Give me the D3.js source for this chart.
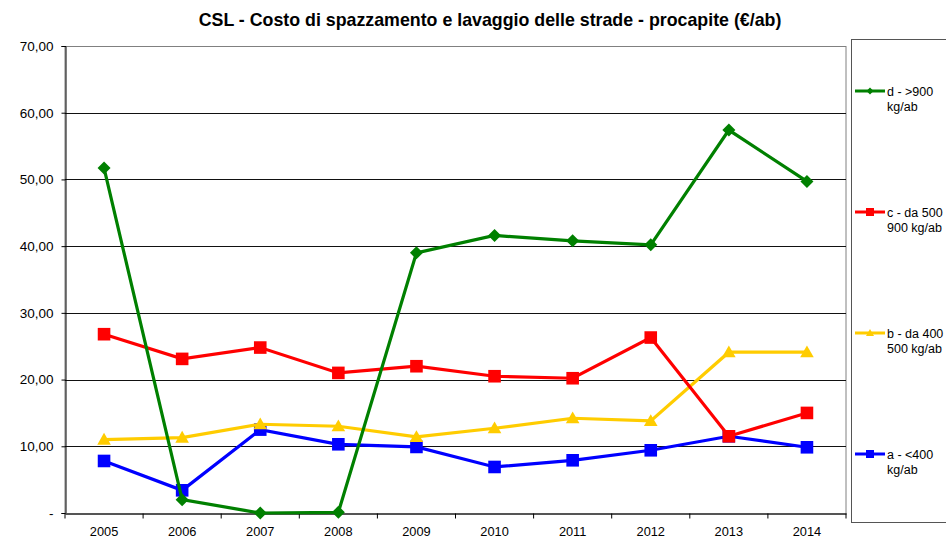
<!DOCTYPE html>
<html>
<head>
<meta charset="utf-8">
<script src="https://cdn.jsdelivr.net/npm/d3@7"></script>
<style>
  body { margin: 0; background: #fff; }
  svg { font-family: "Liberation Sans", Arial, sans-serif; }
</style>
</head>
<body>
<svg id="chart" width="946" height="539"></svg>
<script>
// data
var years = ["2005", "2006", "2007", "2008", "2009", "2010", "2011", "2012", "2013", "2014"];
var seriesD = [51.7, 2.0, 0.0, 0.1, 39.0, 41.6, 40.8, 40.2, 57.4, 49.7];
var seriesC = [26.8, 23.1, 24.8, 21.0, 22.0, 20.5, 20.2, 26.3, 11.5, 15.0];
var seriesB = [11.0, 11.3, 13.3, 13.0, 11.4, 12.7, 14.2, 13.8, 24.1, 24.1];
var seriesA = [7.8, 3.4, 12.5, 10.3, 9.9, 6.9, 7.9, 9.4, 11.5, 9.85];
var yTicks = [0, 10, 20, 30, 40, 50, 60, 70];

var series = [
    {name: ["d - >900", "kg/ab"], values: seriesD, color: "#008000", shape: "diamond"},
    {name: ["c - da 500", "900 kg/ab"], values: seriesC, color: "#ff0000", shape: "square"},
    {name: ["b - da 400", "500 kg/ab"], values: seriesB, color: "#ffcc00", shape: "triangle"},
    {name: ["a - <400", "kg/ab"], values: seriesA, color: "#0000ff", shape: "square"}
];

var svg = d3.select("#chart");
var plotLeft = 65, plotRight = 846, plotTop = 46, plotBottom = 513;

var x = d3.scaleBand().domain(years).range([plotLeft, plotRight]);
var y = d3.scaleLinear().domain([0, 70]).range([plotBottom, plotTop]);

// title
svg.append("text")
    .attr("x", 490).attr("y", 26)
    .attr("text-anchor", "middle")
    .attr("font-size", 17.8).attr("font-weight", "bold")
    .text("CSL - Costo di spazzamento e lavaggio delle strade - procapite (€/ab)");

// plot border
svg.append("rect")
    .attr("x", plotLeft).attr("y", plotTop + 0.5)
    .attr("width", plotRight - plotLeft).attr("height", plotBottom - plotTop)
    .attr("fill", "none").attr("stroke", "#808080").attr("stroke-width", 1);

// gridlines
svg.append("g").selectAll("line")
    .data(yTicks.filter(function(d) { return d > 0 && d < 70; }))
    .join("line")
    .attr("x1", plotLeft).attr("x2", plotRight)
    .attr("y1", function(d) { return Math.round(y(d)) + 0.5; })
    .attr("y2", function(d) { return Math.round(y(d)) + 0.5; })
    .attr("stroke", "#111").attr("stroke-width", 1);

// y axis
var yAxis = svg.append("g")
    .attr("transform", "translate(" + (plotLeft + 0.5) + ",0)")
    .call(d3.axisLeft(y).tickValues(yTicks).tickSize(4).tickPadding(8)
        .tickFormat(function(d) { return d === 0 ? "-" : d3.format(".2f")(d).replace(".", ","); }));
yAxis.selectAll("text").attr("font-size", 13.5).attr("fill", "#000")
    .attr("font-family", "Liberation Sans, Arial, sans-serif");
yAxis.select(".domain").attr("stroke", "#000");
yAxis.selectAll(".tick line").attr("stroke", "#000");

// x axis
var xAxis = svg.append("g")
    .attr("transform", "translate(0," + (plotBottom + 0.5) + ")")
    .call(d3.axisBottom(x).tickSize(0).tickPadding(13));
xAxis.selectAll("text").attr("font-size", 12.8).attr("fill", "#000")
    .attr("font-family", "Liberation Sans, Arial, sans-serif");
xAxis.select(".domain").attr("stroke", "#555").attr("stroke-width", 2);
xAxis.append("g").selectAll("line")
    .data(d3.range(years.length + 1))
    .join("line")
    .attr("x1", function(i) { return plotLeft + i * x.step(); })
    .attr("x2", function(i) { return plotLeft + i * x.step(); })
    .attr("y1", 0).attr("y2", 5)
    .attr("stroke", "#000");

function cx(i) { return x(years[i]) + x.bandwidth() / 2; }

// marker path centred on 0,0 with half-size r
function markerPath(shape, r) {
    if (shape === "square") {
        return "M" + (-r) + "," + (-r) + "H" + r + "V" + r + "H" + (-r) + "Z";
    } else if (shape === "diamond") {
        return "M0," + (-r) + "L" + r + ",0L0," + r + "L" + (-r) + ",0Z";
    }
    return "M0," + (-r) + "L" + r + "," + (r * 0.75) + "L" + (-r) + "," + (r * 0.75) + "Z";
}

var markerSize = {square: 6.3, diamond: 6.5, triangle: 6.8};

var line = d3.line()
    .x(function(d, i) { return cx(i); })
    .y(function(d) { return y(d); });

// draw bottom series first so green sits on top
series.slice().reverse().forEach(function(s) {
    var g = svg.append("g");
    g.append("path").datum(s.values)
        .attr("d", line).attr("fill", "none")
        .attr("stroke", s.color).attr("stroke-width", 3.2);
    g.selectAll(".m").data(s.values).join("path")
        .attr("d", markerPath(s.shape, markerSize[s.shape]))
        .attr("transform", function(v, i) { return "translate(" + cx(i) + "," + y(v) + ")"; })
        .attr("fill", s.color);
});

// legend
svg.append("rect")
    .attr("x", 851.5).attr("y", 39.5)
    .attr("width", 110).attr("height", 483)
    .attr("fill", "#fff").attr("stroke", "#555").attr("stroke-width", 1);

var legendY = [91, 212, 333, 454];
series.forEach(function(s, k) {
    var g = svg.append("g");
    var ly = legendY[k];
    g.append("line").attr("x1", 855).attr("x2", 885).attr("y1", ly).attr("y2", ly)
        .attr("stroke", s.color).attr("stroke-width", 3);
    g.append("path").attr("d", markerPath(s.shape, s.shape === "diamond" ? 3.5 : 4))
        .attr("transform", "translate(870," + ly + ")").attr("fill", s.color);
    g.append("text").attr("x", 887).attr("y", ly + 4.5)
        .attr("font-size", 12.5).text(s.name[0]);
    g.append("text").attr("x", 887).attr("y", ly + 20)
        .attr("font-size", 12.5).text(s.name[1]);
});
</script>
</body>
</html>
